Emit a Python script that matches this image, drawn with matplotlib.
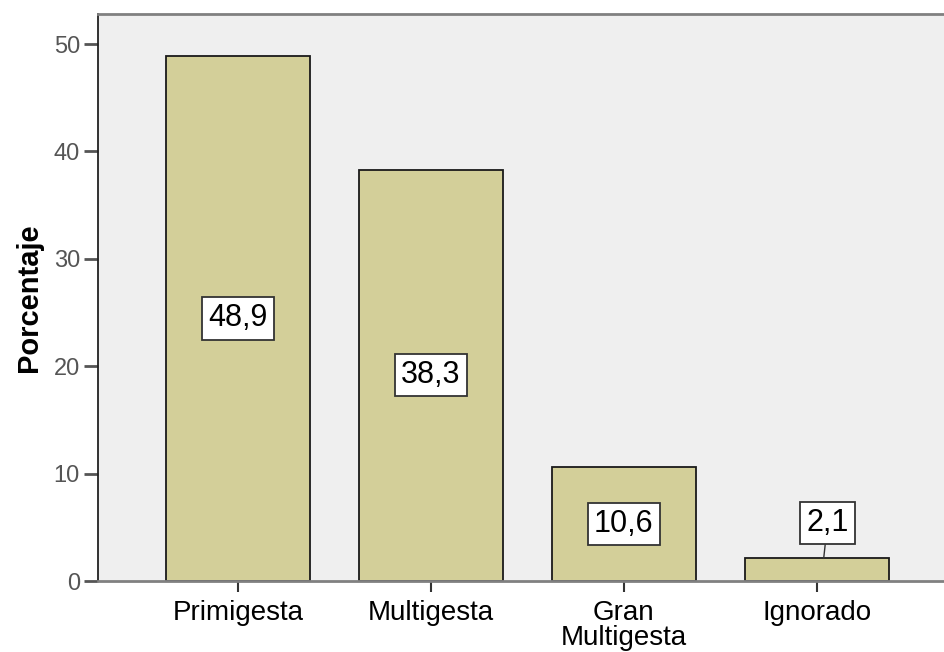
import matplotlib
matplotlib.use("Agg")
import matplotlib.pyplot as plt

categories = ["Primigesta", "Multigesta", "Gran\nMultigesta", "Ignorado"]
percentages = [48.9, 38.3, 10.6, 2.1]
value_labels = ["48,9", "38,3", "10,6", "2,1"]
y_ticks = [0, 10, 20, 30, 40, 50]

plt.rcParams["font.family"] = ["Liberation Sans", "DejaVu Sans"]

fig = plt.figure(figsize=(9.45, 6.52), dpi=100)
ax = fig.add_axes([98 / 945, 1 - 581 / 652, 1.2, 567 / 652])
ax.set_facecolor("#EFEFEF")

x = list(range(len(categories)))
ax.bar(x, percentages, width=0.746, color="#D3CF99",
       edgecolor="#1a1a1a", linewidth=1.3, zorder=2)

ax.set_xlim(-0.725, -0.725 + 1.2 * 945 / 193)
ax.set_ylim(0, 52.8)

ax.set_yticks(y_ticks)
ax.set_yticklabels([str(v) for v in y_ticks], fontsize=17, color="#555555")
ax.set_xticks(x)
ax.set_xticklabels(categories, fontsize=20, color="black", linespacing=0.95)

ax.tick_params(axis="y", length=10, width=2, color="#555555", pad=3)
ax.tick_params(axis="x", length=8, width=1.5, color="#333333", pad=6)

ax.set_ylabel("Porcentaje", fontsize=21, fontweight="bold", labelpad=8)

for side in ["top", "bottom"]:
    ax.spines[side].set_color("#808080")
    ax.spines[side].set_linewidth(2)
ax.spines["left"].set_color("#222222")
ax.spines["left"].set_linewidth(1.3)
ax.spines["right"].set_visible(False)

box = dict(boxstyle="square,pad=0.2", facecolor="white", edgecolor="#333333", linewidth=1.3)
for xi, v, lab in zip(x, percentages, value_labels):
    if v > 5:
        ax.text(xi, v / 2, lab, ha="center", va="center", fontsize=22, bbox=box, zorder=4)
    else:
        ax.annotate(lab, xy=(xi + 0.035, v), xytext=(xi + 0.055, v + 3.3), ha="center", va="center",
                    fontsize=22, bbox=box, zorder=4,
                    arrowprops=dict(arrowstyle="-", color="#333333", lw=1, shrinkA=0, shrinkB=0))

fig.savefig("out.png", dpi=100)
